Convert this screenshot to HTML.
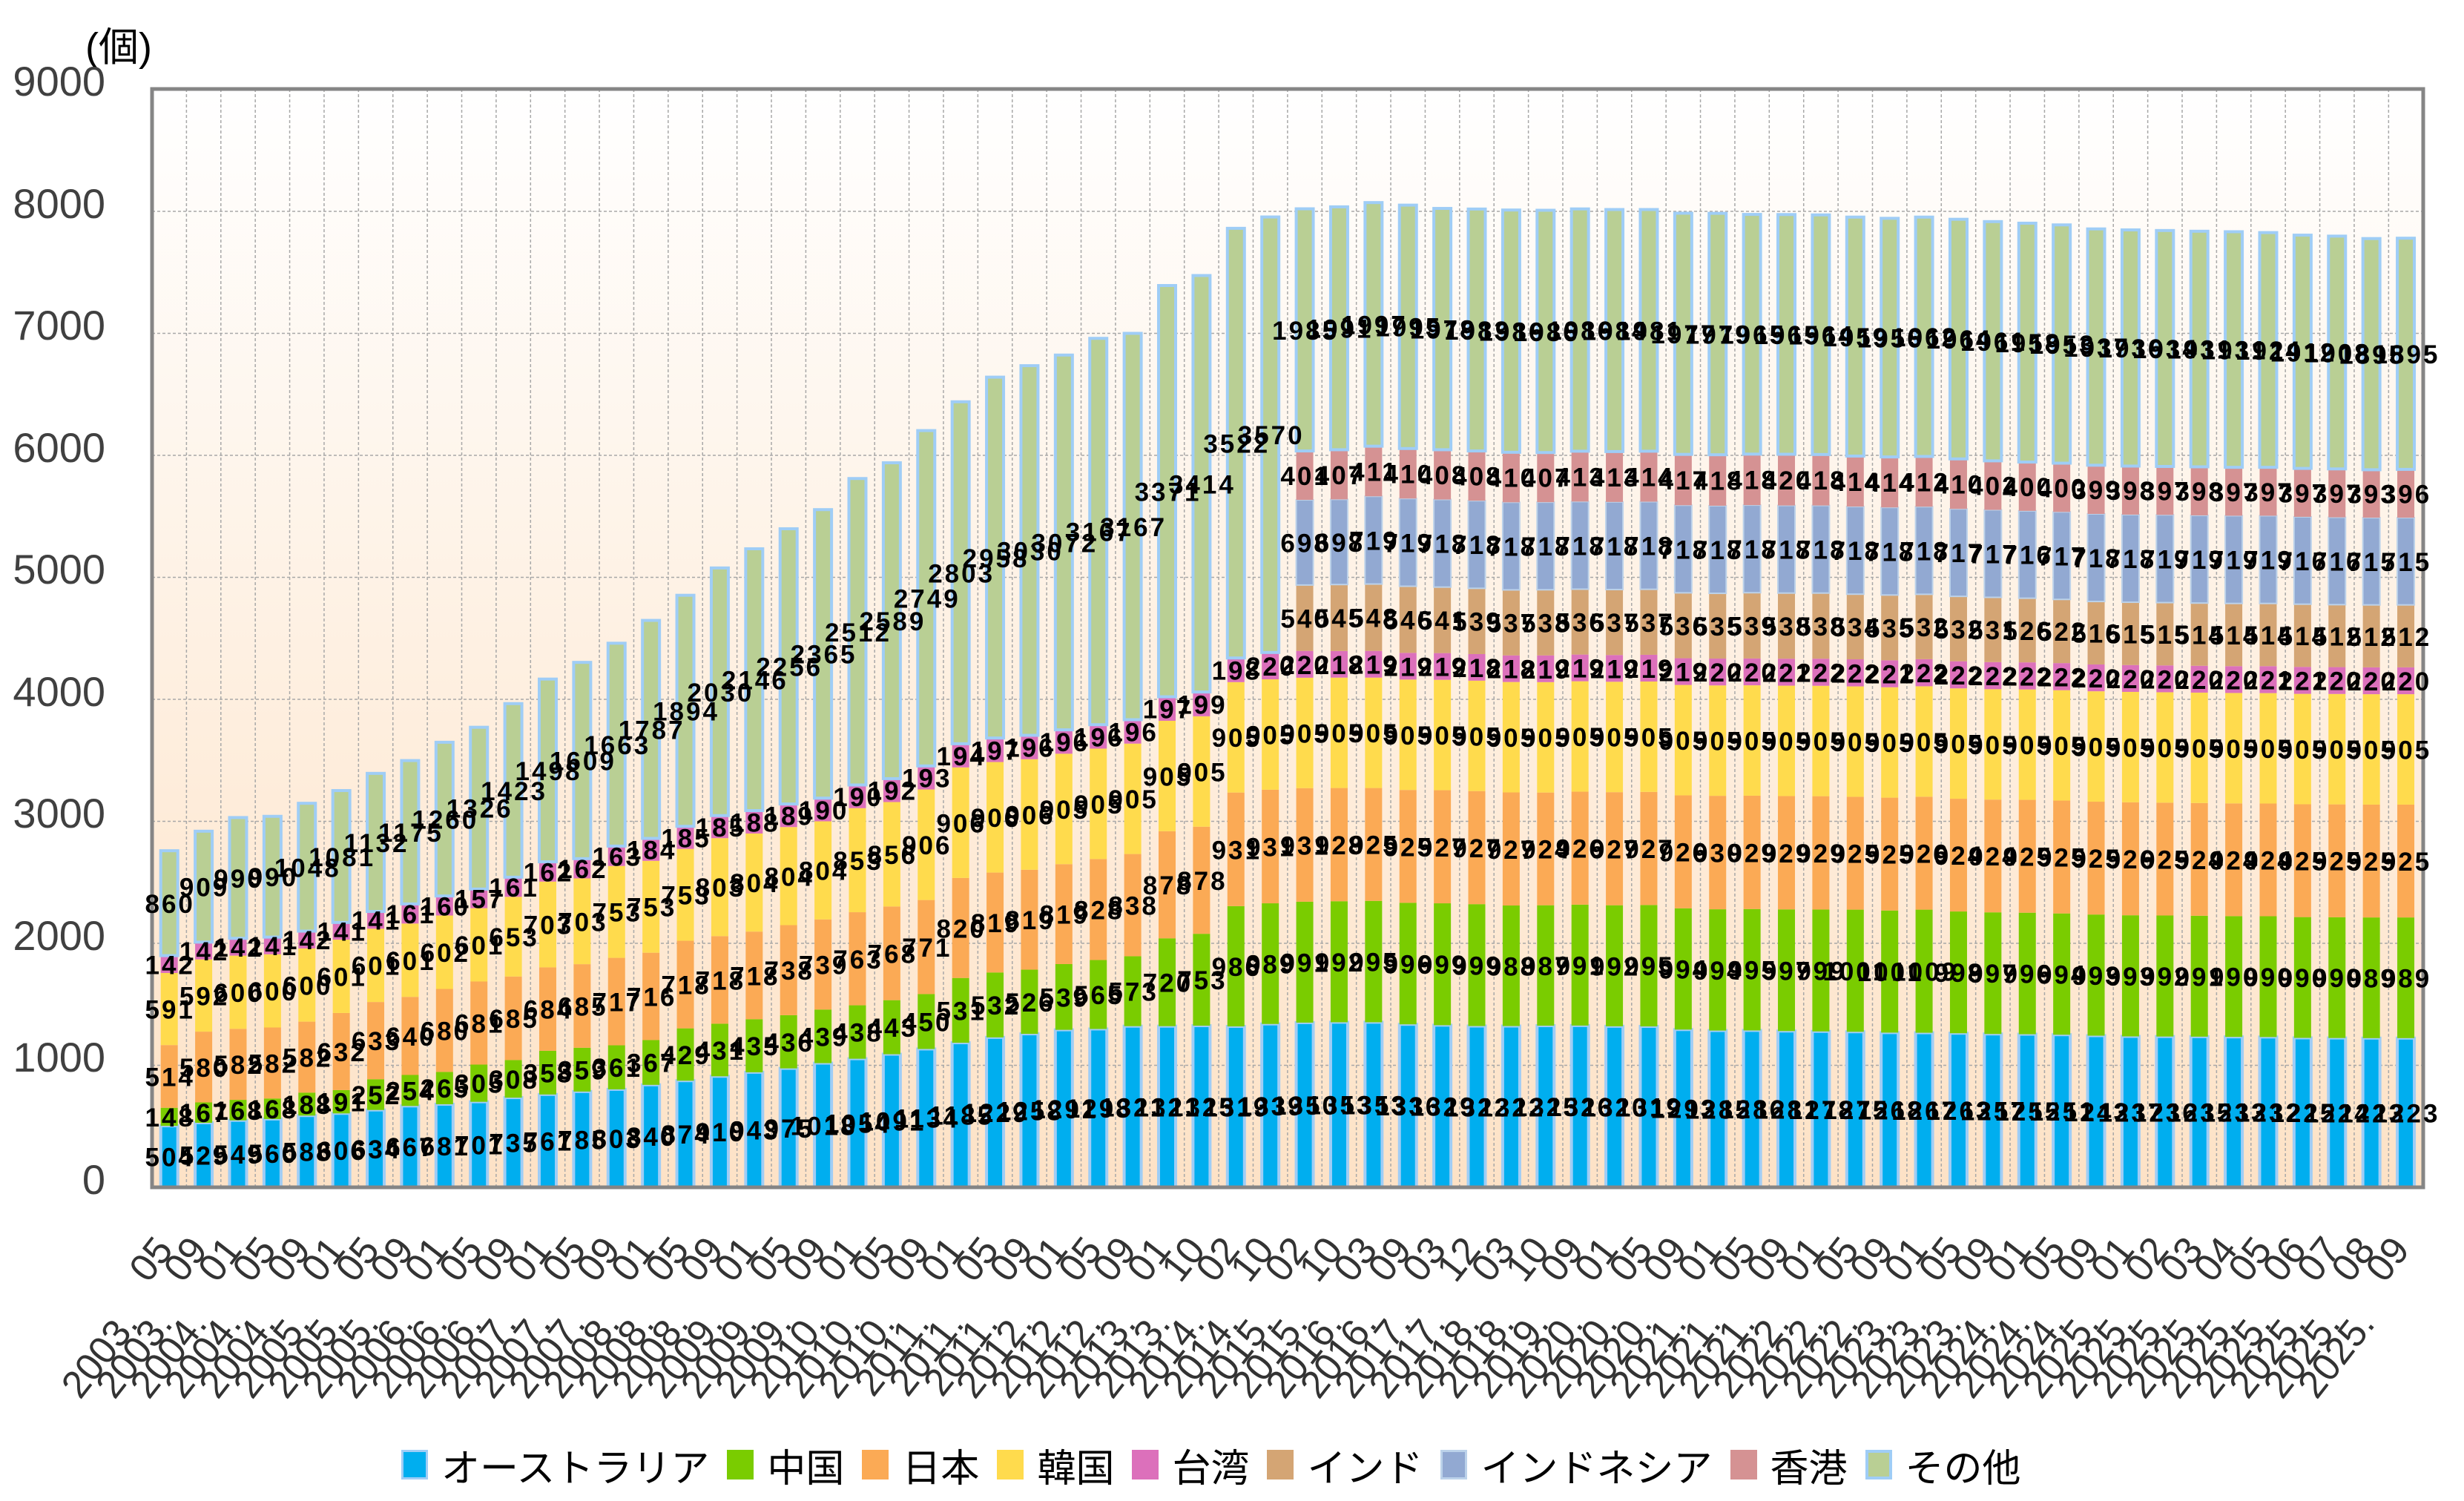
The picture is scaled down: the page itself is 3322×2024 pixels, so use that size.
<!DOCTYPE html>
<html><head><meta charset="utf-8">
<style>
html,body{margin:0;padding:0;background:#fff;}
body{width:3322px;height:2024px;position:relative;overflow:hidden;font-family:"Liberation Sans","Noto Sans CJK JP",sans-serif;}
svg{position:absolute;left:0;top:0;}
.dl text{font-family:"Liberation Sans",sans-serif;font-weight:bold;font-size:35px;letter-spacing:3px;fill:#000;text-anchor:middle;}
.mo text,.yr text{font-family:"Liberation Sans",sans-serif;font-size:52px;fill:#333;text-anchor:end;}
.yt{font-family:"Liberation Sans",sans-serif;font-size:56px;fill:#404040;text-anchor:end;}
#legend{position:absolute;left:541px;top:1950px;height:50px;display:flex;align-items:center;font-family:"Liberation Sans","Noto Sans CJK JP",sans-serif;font-size:52px;color:#000;white-space:nowrap;}
#legend .it{display:flex;align-items:center;margin-right:24px;}
#legend .bx{width:36px;height:40px;margin-right:18px;box-sizing:border-box;}
</style></head><body>
<svg id="chart" width="3322" height="2024" viewBox="0 0 3322 2024" xmlns="http://www.w3.org/2000/svg">
<defs><linearGradient id="bg" x1="0" y1="0" x2="0" y2="1"><stop offset="0" stop-color="#ffffff"/><stop offset="1" stop-color="#fde2c6"/></linearGradient></defs>
<rect x="205" y="120" width="3062" height="1481" fill="url(#bg)"/>
<g id="grid"></g>
<g id="bars"></g>
<rect x="205" y="120" width="3062" height="1481" fill="none" stroke="#858585" stroke-width="5"/>
<text x="115" y="82" style="font-family:'Liberation Sans','Noto Sans CJK JP',sans-serif;font-size:54px;fill:#000">(個)</text>
<text class="yt" x="142" y="129">9000</text>
<text class="yt" x="142" y="294">8000</text>
<text class="yt" x="142" y="458">7000</text>
<text class="yt" x="142" y="623">6000</text>
<text class="yt" x="142" y="787">5000</text>
<text class="yt" x="142" y="952">4000</text>
<text class="yt" x="142" y="1116">3000</text>
<text class="yt" x="142" y="1281">2000</text>
<text class="yt" x="142" y="1445">1000</text>
<text class="yt" x="142" y="1610">0</text>
<g class="dl" id="s0"><text>504</text><text>529</text><text>549</text><text>560</text><text>588</text><text>606</text><text>634</text><text>667</text><text>681</text><text>701</text><text>735</text><text>761</text><text>785</text><text>803</text><text>840</text><text>874</text><text>910</text><text>943</text><text>975</text><text>1018</text><text>1054</text><text>1091</text><text>1134</text><text>1185</text><text>1229</text><text>1258</text><text>1291</text><text>1298</text><text>1321</text><text>1321</text><text>1325</text><text>1319</text><text>1339</text><text>1350</text><text>1353</text><text>1353</text><text>1336</text><text>1329</text><text>1322</text><text>1322</text><text>1325</text><text>1326</text><text>1320</text><text>1319</text><text>1293</text><text>1285</text><text>1286</text><text>1281</text><text>1278</text><text>1275</text><text>1268</text><text>1267</text><text>1263</text><text>1257</text><text>1255</text><text>1251</text><text>1243</text><text>1237</text><text>1236</text><text>1235</text><text>1233</text><text>1232</text><text>1225</text><text>1224</text><text>1223</text><text>1223</text></g>
<g class="dl" id="s1"><text>148</text><text>167</text><text>168</text><text>168</text><text>188</text><text>191</text><text>252</text><text>254</text><text>265</text><text>305</text><text>308</text><text>358</text><text>359</text><text>361</text><text>367</text><text>429</text><text>431</text><text>435</text><text>436</text><text>439</text><text>438</text><text>443</text><text>450</text><text>531</text><text>532</text><text>526</text><text>539</text><text>565</text><text>573</text><text>720</text><text>753</text><text>986</text><text>989</text><text>991</text><text>992</text><text>995</text><text>996</text><text>999</text><text>999</text><text>988</text><text>987</text><text>991</text><text>992</text><text>995</text><text>994</text><text>994</text><text>995</text><text>997</text><text>999</text><text>1001</text><text>1001</text><text>1009</text><text>998</text><text>997</text><text>996</text><text>994</text><text>993</text><text>993</text><text>992</text><text>991</text><text>990</text><text>990</text><text>990</text><text>990</text><text>989</text><text>989</text></g>
<g class="dl" id="s2"><text>514</text><text>580</text><text>582</text><text>582</text><text>582</text><text>632</text><text>633</text><text>640</text><text>680</text><text>681</text><text>685</text><text>684</text><text>685</text><text>717</text><text>716</text><text>718</text><text>718</text><text>718</text><text>738</text><text>739</text><text>763</text><text>768</text><text>771</text><text>820</text><text>819</text><text>819</text><text>819</text><text>828</text><text>838</text><text>878</text><text>878</text><text>931</text><text>931</text><text>931</text><text>928</text><text>925</text><text>925</text><text>927</text><text>927</text><text>927</text><text>924</text><text>926</text><text>927</text><text>927</text><text>926</text><text>930</text><text>929</text><text>929</text><text>929</text><text>925</text><text>925</text><text>926</text><text>924</text><text>924</text><text>925</text><text>925</text><text>925</text><text>926</text><text>925</text><text>924</text><text>924</text><text>924</text><text>925</text><text>925</text><text>925</text><text>925</text></g>
<g class="dl" id="s3"><text>591</text><text>592</text><text>600</text><text>600</text><text>600</text><text>601</text><text>601</text><text>601</text><text>602</text><text>601</text><text>653</text><text>703</text><text>703</text><text>753</text><text>753</text><text>753</text><text>803</text><text>804</text><text>804</text><text>804</text><text>853</text><text>856</text><text>906</text><text>906</text><text>906</text><text>906</text><text>905</text><text>905</text><text>905</text><text>905</text><text>905</text><text>905</text><text>905</text><text>905</text><text>905</text><text>905</text><text>905</text><text>905</text><text>905</text><text>905</text><text>905</text><text>905</text><text>905</text><text>905</text><text>905</text><text>905</text><text>905</text><text>905</text><text>905</text><text>905</text><text>905</text><text>905</text><text>905</text><text>905</text><text>905</text><text>905</text><text>905</text><text>905</text><text>905</text><text>905</text><text>905</text><text>905</text><text>905</text><text>905</text><text>905</text><text>905</text></g>
<g class="dl" id="s4"><text>142</text><text>142</text><text>142</text><text>141</text><text>142</text><text>141</text><text>141</text><text>161</text><text>160</text><text>157</text><text>161</text><text>162</text><text>162</text><text>163</text><text>184</text><text>185</text><text>185</text><text>188</text><text>189</text><text>190</text><text>190</text><text>192</text><text>193</text><text>194</text><text>197</text><text>196</text><text>196</text><text>196</text><text>196</text><text>197</text><text>199</text><text>198</text><text>220</text><text>220</text><text>218</text><text>219</text><text>219</text><text>219</text><text>218</text><text>218</text><text>219</text><text>219</text><text>219</text><text>219</text><text>219</text><text>220</text><text>220</text><text>221</text><text>222</text><text>222</text><text>221</text><text>222</text><text>222</text><text>222</text><text>222</text><text>222</text><text>220</text><text>220</text><text>220</text><text>220</text><text>220</text><text>221</text><text>221</text><text>220</text><text>220</text><text>220</text></g>
<g class="dl" id="s5"><text>540</text><text>545</text><text>548</text><text>546</text><text>541</text><text>539</text><text>537</text><text>538</text><text>536</text><text>537</text><text>537</text><text>536</text><text>535</text><text>539</text><text>538</text><text>538</text><text>534</text><text>535</text><text>532</text><text>532</text><text>531</text><text>526</text><text>522</text><text>516</text><text>515</text><text>515</text><text>514</text><text>514</text><text>514</text><text>514</text><text>512</text><text>512</text><text>512</text></g>
<g class="dl" id="s6"><text>698</text><text>698</text><text>719</text><text>719</text><text>718</text><text>718</text><text>718</text><text>718</text><text>718</text><text>718</text><text>718</text><text>718</text><text>718</text><text>718</text><text>718</text><text>718</text><text>718</text><text>718</text><text>718</text><text>717</text><text>717</text><text>716</text><text>717</text><text>718</text><text>718</text><text>719</text><text>719</text><text>719</text><text>719</text><text>716</text><text>716</text><text>715</text><text>715</text></g>
<g class="dl" id="s7"><text>401</text><text>407</text><text>411</text><text>410</text><text>408</text><text>408</text><text>410</text><text>407</text><text>413</text><text>413</text><text>414</text><text>417</text><text>418</text><text>418</text><text>420</text><text>418</text><text>414</text><text>414</text><text>412</text><text>410</text><text>402</text><text>400</text><text>400</text><text>399</text><text>398</text><text>397</text><text>398</text><text>397</text><text>397</text><text>397</text><text>397</text><text>393</text><text>396</text></g>
<g class="dl" id="s8"><text>860</text><text>909</text><text>990</text><text>990</text><text>1048</text><text>1081</text><text>1132</text><text>1175</text><text>1260</text><text>1326</text><text>1423</text><text>1498</text><text>1609</text><text>1663</text><text>1787</text><text>1894</text><text>2030</text><text>2146</text><text>2256</text><text>2365</text><text>2512</text><text>2589</text><text>2749</text><text>2803</text><text>2958</text><text>3030</text><text>3072</text><text>3167</text><text>3167</text><text>3371</text><text>3414</text><text>3522</text><text>3570</text><text>1985</text><text>1991</text><text>1997</text><text>1995</text><text>1978</text><text>1983</text><text>1986</text><text>1986</text><text>1986</text><text>1984</text><text>1981</text><text>1977</text><text>1979</text><text>1965</text><text>1965</text><text>1964</text><text>1959</text><text>1956</text><text>1962</text><text>1964</text><text>1961</text><text>1958</text><text>1953</text><text>1937</text><text>1936</text><text>1934</text><text>1931</text><text>1931</text><text>1924</text><text>1912</text><text>1908</text><text>1895</text><text>1895</text></g>
<g class="mo" id="mo"><text>05</text><text>09</text><text>01</text><text>05</text><text>09</text><text>01</text><text>05</text><text>09</text><text>01</text><text>05</text><text>09</text><text>01</text><text>05</text><text>09</text><text>01</text><text>05</text><text>09</text><text>01</text><text>05</text><text>09</text><text>01</text><text>05</text><text>09</text><text>01</text><text>05</text><text>09</text><text>01</text><text>05</text><text>09</text><text>01</text><text>10</text><text>02</text><text>10</text><text>02</text><text>10</text><text>03</text><text>09</text><text>03</text><text>12</text><text>03</text><text>10</text><text>09</text><text>01</text><text>05</text><text>09</text><text>01</text><text>05</text><text>09</text><text>01</text><text>05</text><text>09</text><text>01</text><text>05</text><text>09</text><text>01</text><text>05</text><text>09</text><text>01</text><text>02</text><text>03</text><text>04</text><text>05</text><text>06</text><text>07</text><text>08</text><text>09</text></g>
<g class="yr" id="yr"><text>2003.</text><text>2003.</text><text>2004.</text><text>2004.</text><text>2004.</text><text>2005.</text><text>2005.</text><text>2005.</text><text>2006.</text><text>2006.</text><text>2006.</text><text>2007.</text><text>2007.</text><text>2007.</text><text>2008.</text><text>2008.</text><text>2008.</text><text>2009.</text><text>2009.</text><text>2009.</text><text>2010.</text><text>2010.</text><text>2010.</text><text>2011.</text><text>2011.</text><text>2011.</text><text>2012.</text><text>2012.</text><text>2012.</text><text>2013.</text><text>2013.</text><text>2014.</text><text>2014.</text><text>2015.</text><text>2015.</text><text>2016.</text><text>2016.</text><text>2017.</text><text>2017.</text><text>2018.</text><text>2018.</text><text>2019.</text><text>2020.</text><text>2020.</text><text>2020.</text><text>2021.</text><text>2021.</text><text>2021.</text><text>2022.</text><text>2022.</text><text>2022.</text><text>2023.</text><text>2023.</text><text>2023.</text><text>2024.</text><text>2024.</text><text>2024.</text><text>2025.</text><text>2025.</text><text>2025.</text><text>2025.</text><text>2025.</text><text>2025.</text><text>2025.</text><text>2025.</text><text>2025.</text></g>
</svg>
<div id="legend">
<div class="it"><div class="bx" style="background:#00aeef;border:3px solid #9fcdf6"></div>オーストラリア</div>
<div class="it"><div class="bx" style="background:#7acc00"></div>中国</div>
<div class="it"><div class="bx" style="background:#fbaa55"></div>日本</div>
<div class="it"><div class="bx" style="background:#ffdb4d"></div>韓国</div>
<div class="it"><div class="bx" style="background:#dc70bb"></div>台湾</div>
<div class="it"><div class="bx" style="background:#d4a574"></div>インド</div>
<div class="it"><div class="bx" style="background:#92a9d2;border:3px solid #bcd2ea"></div>インドネシア</div>
<div class="it"><div class="bx" style="background:#d59293"></div>香港</div>
<div class="it"><div class="bx" style="background:#b9cf94;border:4px solid #9fcdf6"></div>その他</div>
</div>
<script>
(function(){
var NS="http://www.w3.org/2000/svg";
var L=205,W=46.39,Y0=1601,K=0.1645,N=66,BW=23;
var cols=["#00aeef","#7acc00","#fbaa55","#ffdb4d","#dc70bb","#d4a574","#92a9d2","#d59293","#b9cf94"];
var grid=document.getElementById("grid"),bars=document.getElementById("bars");
function el(t,a,p){var e=document.createElementNS(NS,t);for(var k in a)e.setAttribute(k,a[k]);p.appendChild(e);return e;}
for(var k=1;k<=8;k++){var y=Y0-k*1000*K;el("line",{x1:L,x2:L+N*W,y1:y,y2:y,stroke:"#a8a8a8","stroke-width":1.5,"stroke-dasharray":"4 3"},grid);}
for(var j=1;j<N;j++){var x=L+j*W;el("line",{x1:x,x2:x,y1:120,y2:Y0,stroke:"#a8a8a8","stroke-width":1.5,"stroke-dasharray":"4 3"},grid);}
var base=[];for(var i=0;i<N;i++)base.push(0);
for(var s=0;s<9;s++){
 var ts=document.getElementById("s"+s).getElementsByTagName("text");
 var off=ts.length<N?N-ts.length:0;
 for(var t=0;t<ts.length;t++){
  var i=t+off,v=parseFloat(ts[t].textContent);
  var cx=L+(i+0.5)*W,y1=Y0-base[i]*K,y2=Y0-(base[i]+v)*K;
  var a={x:cx-BW/2,y:y2,width:BW,height:y1-y2,fill:cols[s]};
  if(s==0||s==8){a.stroke="#9fcdf6";a["stroke-width"]=4;}
  if(s==6){a.stroke="#bcd2ea";a["stroke-width"]=2;}
  el("rect",a,bars);
  ts[t].setAttribute("x",cx+1);ts[t].setAttribute("y",(y1+y2)/2+13);
  base[i]+=v;
 }
}
var mo=document.getElementById("mo").getElementsByTagName("text"),yr=document.getElementById("yr").getElementsByTagName("text");
for(var i=0;i<N;i++){var cx=L+(i+0.5)*W;
 if(mo[i]){mo[i].setAttribute("transform","translate("+(cx+7)+",1686) rotate(-52)");}
 if(yr[i]){yr[i].setAttribute("transform","translate("+(cx-40)+",1786) rotate(-52)");}
}
})();
</script>
</body></html>
